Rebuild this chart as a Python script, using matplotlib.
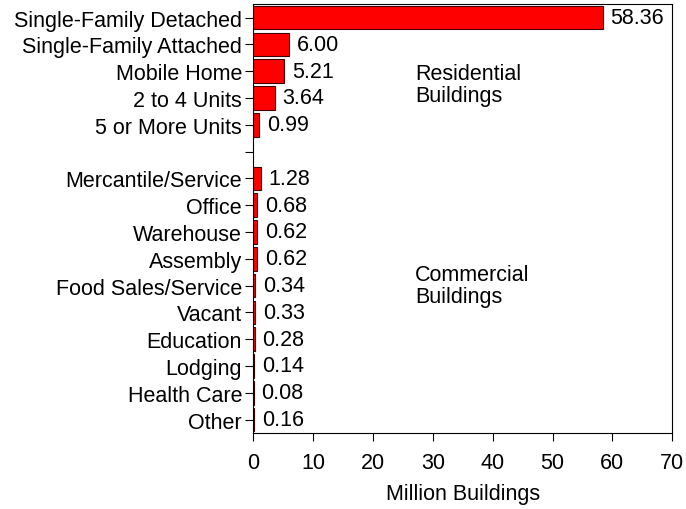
import matplotlib
matplotlib.use('Agg')
import matplotlib.pyplot as plt

# 資料
categories = ['Single-Family Detached', 'Single-Family Attached', 'Mobile Home',
              '2 to 4 Units', '5 or More Units', '',
              'Mercantile/Service', 'Office', 'Warehouse', 'Assembly',
              'Food Sales/Service', 'Vacant', 'Education', 'Lodging',
              'Health Care', 'Other']
values = [58.36, 6.00, 5.21, 3.64, 0.99, None,
          1.28, 0.68, 0.62, 0.62, 0.34, 0.33, 0.28, 0.14, 0.08, 0.16]
group_labels = ['Residential\nBuildings', 'Commercial\nBuildings']
group_pos = [(27, 2.5), (27, 10.0)]

plt.rcParams['font.family'] = ['Liberation Sans', 'DejaVu Sans']
FS = 15.5

fig = plt.figure(figsize=(6.86, 5.10), dpi=100)
ax = fig.add_axes([0.369, 0.149, 0.611, 0.841])

ypos = list(range(len(categories)))
for y, v in zip(ypos, values):
    if v is None:
        continue
    ax.barh(y, v, height=0.88, color='#ff0000', edgecolor='#400000', linewidth=0.8)
    ax.text(v + 1.3, y, f'{v:.2f}', va='center', ha='left', fontsize=FS)

for txt, (x, y) in zip(group_labels, group_pos):
    ax.text(x, y, txt, va='center', ha='left', fontsize=FS, linespacing=1.05)

ax.set_yticks(ypos)
ax.set_yticklabels(categories, fontsize=FS)
ax.set_ylim(len(categories) - 0.5, -0.5)
ax.set_xlim(0, 70)
ax.set_xticks(range(0, 71, 10))
ax.tick_params(axis='x', labelsize=FS, length=6, pad=8)
ax.tick_params(axis='y', length=6, pad=2)
ax.set_xlabel('Million Buildings', fontsize=FS, labelpad=7)

fig.savefig('out.png', dpi=100)
